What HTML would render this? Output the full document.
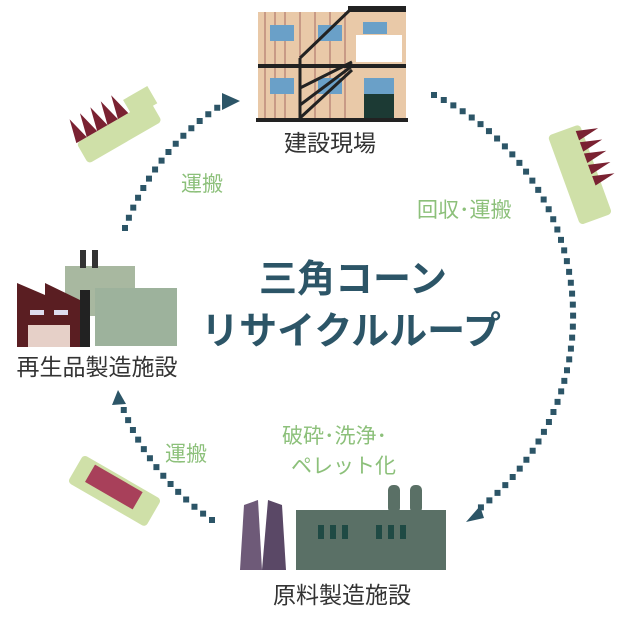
<!DOCTYPE html>
<html><head><meta charset="utf-8"><style>
body{margin:0;background:#fff;}
svg{display:block}
text{font-family:"Liberation Sans","Noto Sans CJK JP",sans-serif;}
</style></head><body>
<svg width="640" height="619" viewBox="0 0 640 619" xmlns="http://www.w3.org/2000/svg">
<g fill="none" stroke="#2c5567" stroke-width="6" stroke-linecap="square" stroke-dasharray="0 11">
<path d="M125 228 A245 245 0 0 1 226 102"/>
<path d="M434 95 A245 245 0 0 1 475 512"/>
<path d="M212 520 A245 245 0 0 1 120 400"/>
</g>
<g fill="#2c5567">
<polygon points="222,93 240,101 222,110"/>
<polygon points="480,506 466,522 484,518"/>
<polygon points="112,405 118,390 126,404"/>
</g>
<!-- Construction site -->
<g>
<rect x="258" y="12" width="148" height="108" fill="#e9c9a8"/>
<g stroke="#c89a86" stroke-width="2">
<line x1="265" y1="12" x2="265" y2="120"/><line x1="275" y1="12" x2="275" y2="120"/><line x1="285" y1="12" x2="285" y2="120"/><line x1="300" y1="12" x2="300" y2="120"/><line x1="315" y1="12" x2="315" y2="120"/><line x1="330" y1="12" x2="330" y2="120"/><line x1="345" y1="12" x2="345" y2="120"/>
</g>
<rect x="258" y="64" width="148" height="4" fill="#222"/>
<rect x="348" y="6" width="58" height="6" fill="#222"/>
<rect x="356" y="35" width="46" height="27" fill="#fff"/>
<rect x="270" y="25" width="24" height="16" fill="#6aa0c8"/><rect x="318" y="25" width="24" height="16" fill="#6aa0c8"/><rect x="363" y="22" width="24" height="12" fill="#6aa0c8"/>
<rect x="270" y="78" width="24" height="16" fill="#6aa0c8"/><rect x="318" y="78" width="24" height="16" fill="#6aa0c8"/><rect x="364" y="78" width="30" height="16" fill="#6aa0c8"/>
<rect x="364" y="94" width="30" height="24" fill="#1c3a34"/>
<g stroke="#222" stroke-width="3"><line x1="300" y1="58" x2="352" y2="8"/><line x1="300" y1="58" x2="300" y2="120"/><line x1="300" y1="88" x2="352" y2="62"/><line x1="300" y1="105" x2="352" y2="66"/><line x1="300" y1="118" x2="352" y2="70"/></g>
<rect x="256" y="118" width="152" height="4" fill="#222"/>
</g>
<text x="330" y="151" font-size="23" fill="#333" text-anchor="middle">建設現場</text>
<!-- trucks -->
<g transform="translate(115,130) rotate(-30)">
<rect x="-40" y="-8" width="85" height="24" rx="4" fill="#cfe0a8"/>
<g fill="#7a2232"><polygon points="-40,-8 -34,-32 -28,-8"/><polygon points="-28,-8 -22,-32 -16,-8"/><polygon points="-16,-8 -10,-32 -4,-8"/><polygon points="-4,-8 2,-32 8,-8"/><polygon points="8,-8 14,-32 20,-8"/></g>
<rect x="22" y="-22" width="28" height="20" fill="#cfe0a8"/>
</g>
<g transform="translate(580,172) rotate(-20)">
<rect x="-18" y="-45" width="34" height="95" rx="4" fill="#cfe0a8"/>
<g fill="#7a2232"><polygon points="10,-40 32,-35 10,-30"/><polygon points="10,-28 32,-23 10,-18"/><polygon points="10,-16 32,-11 10,-6"/><polygon points="10,-4 32,1 10,6"/><polygon points="10,8 32,13 10,18"/></g>
</g>
<g transform="translate(115,490) rotate(30)">
<rect x="-45" y="-15" width="90" height="32" rx="4" fill="#cfe0a8"/>
<rect x="-30" y="-12" width="55" height="20" fill="#a8405a"/>
</g>
<g font-size="21" fill="#8cc07a">
<text x="181" y="191">運搬</text>
<text x="417" y="217">回収･運搬</text>
<text x="165" y="461">運搬</text>
<text x="282" y="443">破砕･洗浄･</text>
<text x="291" y="473">ペレット化</text>
</g>
<text x="353" y="292" font-size="38" font-weight="bold" fill="#2c5567" text-anchor="middle">三角コーン</text>
<text x="351" y="344" font-size="38" font-weight="bold" fill="#2c5567" text-anchor="middle">リサイクルループ</text>
<!-- recycled product factory -->
<rect x="65" y="266" width="70" height="50" fill="#a8b8a0"/>
<rect x="95" y="288" width="82" height="58" fill="#9db29c"/>
<rect x="80" y="250" width="6" height="18" fill="#333"/><rect x="92" y="250" width="6" height="18" fill="#333"/>
<polygon points="17,283 45,295 45,283 80,300 80,347 17,347" fill="#5a1e22"/>
<rect x="30" y="310" width="14" height="5" fill="#dde"/><rect x="54" y="310" width="14" height="5" fill="#dde"/>
<rect x="28" y="325" width="42" height="22" fill="#e6d0c8"/>
<rect x="80" y="290" width="10" height="57" fill="#222"/>
<text x="97" y="375" font-size="23" fill="#333" text-anchor="middle">再生品製造施設</text>
<!-- raw material plant -->
<polygon points="244,505 258,500 262,570 240,570" fill="#6e5a78"/><polygon points="268,500 282,505 286,570 262,570" fill="#5a4866"/>
<rect x="296" y="510" width="150" height="60" fill="#5a7066"/>
<rect x="388" y="485" width="12" height="28" rx="5" fill="#5a7066"/><rect x="410" y="485" width="12" height="28" rx="5" fill="#5a7066"/>
<g fill="#1f4a44"><rect x="318" y="525" width="6" height="14"/><rect x="330" y="525" width="6" height="14"/><rect x="342" y="525" width="6" height="14"/><rect x="376" y="525" width="6" height="14"/><rect x="388" y="525" width="6" height="14"/><rect x="400" y="525" width="6" height="14"/></g>
<text x="342" y="603" font-size="23" fill="#333" text-anchor="middle">原料製造施設</text>
</svg>
</body></html>
